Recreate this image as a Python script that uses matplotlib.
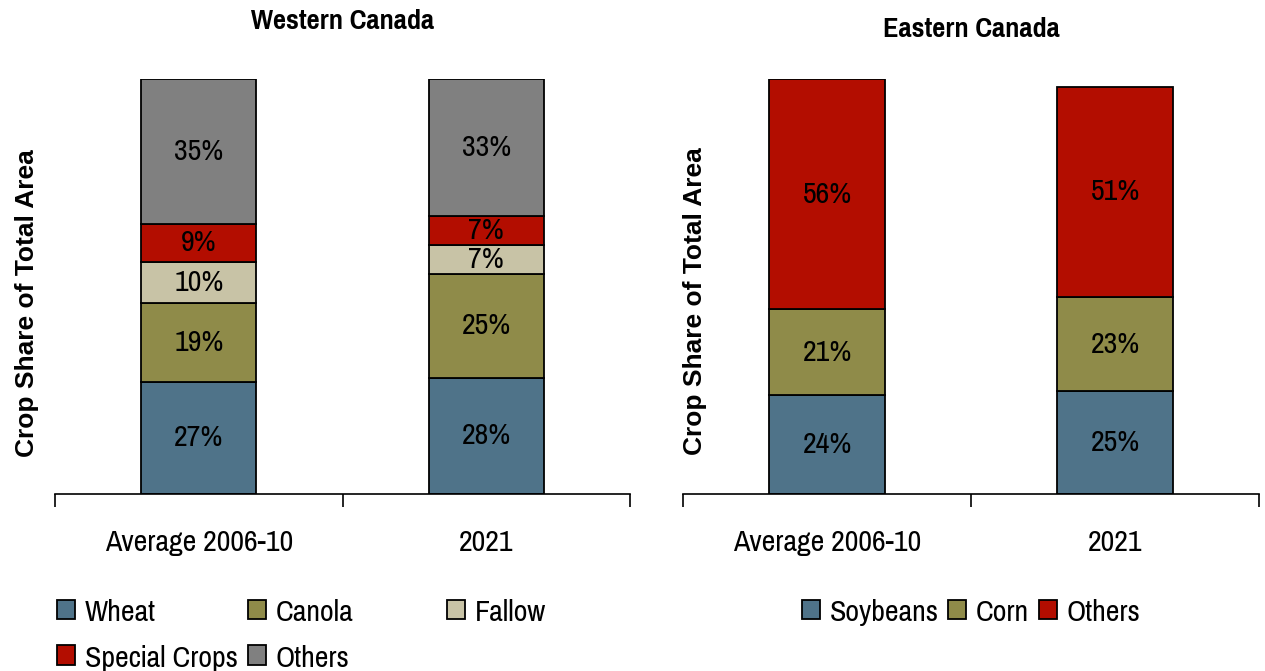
import matplotlib.pyplot as plt
import numpy as np

plt.rcParams['font.family'] = ['Pragati Narrow', 'Archivo Narrow', 'DejaVu Sans']

periods = ['Average 2006-10', '2021']

# Western Canada shares (%)
west_labels = ['Wheat', 'Canola', 'Fallow', 'Special Crops', 'Others']
wheat_w = [27, 28]
canola_w = [19, 25]
fallow_w = [10, 7]
special_w = [9, 7]
others_w = [35, 33]

# Eastern Canada shares (%)
east_labels = ['Soybeans', 'Corn', 'Others']
soy_e = [24, 25]
corn_e = [21, 23]
others_e = [56, 51]

blue = '#4f7389'
olive = '#8f8b49'
beige = '#c8c3a6'
red = '#b30d00'
grey = '#808080'

FS = 23.5


def draw_stack(ax, series, labels, colors, ymax, title, title_pad):
    x = np.arange(len(periods))
    bottom = np.zeros(len(periods))
    handles = []
    for vals, lab, col in zip(series, labels, colors):
        bars = ax.bar(x, vals, 0.4, bottom=bottom, color=col, edgecolor='black',
                      linewidth=1.3, label=lab)
        ax.bar_label(bars, labels=[f'{v}%' for v in vals], label_type='center',
                     fontsize=FS)
        bottom += np.array(vals)
        handles.append(bars)
    ax.set_xlim(-0.5, 1.5)
    ax.set_ylim(0, ymax)
    for s in ['top', 'right', 'left']:
        ax.spines[s].set_visible(False)
    ax.spines['bottom'].set_linewidth(1.2)
    ax.set_xticks(x, periods)
    ax.tick_params(axis='x', which='major', length=0, pad=25, labelsize=FS)
    ax.set_xticks([-0.5, 0.5, 1.5], minor=True)
    ax.tick_params(axis='x', which='minor', length=9, width=1.2)
    ax.set_yticks([])
    ax.set_ylabel('Crop Share of Total Area', fontsize=19, fontweight='bold',
                  family='Liberation Sans')
    ax.set_title(title, fontsize=22.3, fontweight='bold', pad=title_pad)
    return handles


fig = plt.figure(figsize=(12.65, 6.71), dpi=100)
ax1 = fig.add_axes([55 / 1265, 177 / 671, 575 / 1265, 415 / 671])
ax2 = fig.add_axes([683 / 1265, 177 / 671, 576 / 1265, 415 / 671])

hw = draw_stack(ax1, [wheat_w, canola_w, fallow_w, special_w, others_w], west_labels,
                [blue, olive, beige, red, grey], 100, 'Western Canada', 36)
he = draw_stack(ax2, [soy_e, corn_e, others_e], east_labels,
                [blue, olive, red], 101, 'Eastern Canada', 30)

ax1.yaxis.set_label_coords(-0.028, 0.46)
ax2.yaxis.set_label_coords(0.042, 0.465)

leg_kw = dict(frameon=False, fontsize=FS, handlelength=0.55, handleheight=0.55,
              handletextpad=0.3, borderpad=0, borderaxespad=0, labelspacing=0.57)

# left legend laid out as three columns
cols = [[hw[0], hw[3]], [hw[1], hw[4]], [hw[2]]]
col_x = [57, 248, 447]
for hs, cx in zip(cols, col_x):
    fig.legend(handles=hs, labels=[h.get_label() for h in hs], loc='upper left',
               bbox_to_anchor=(cx / 1265, 1 - 599 / 671), **leg_kw)

fig.legend(handles=he, labels=east_labels, loc='upper center', ncol=3,
           columnspacing=0.3, bbox_to_anchor=(971 / 1265, 1 - 599 / 671), **leg_kw)

fig.savefig('out.png', dpi=100)
